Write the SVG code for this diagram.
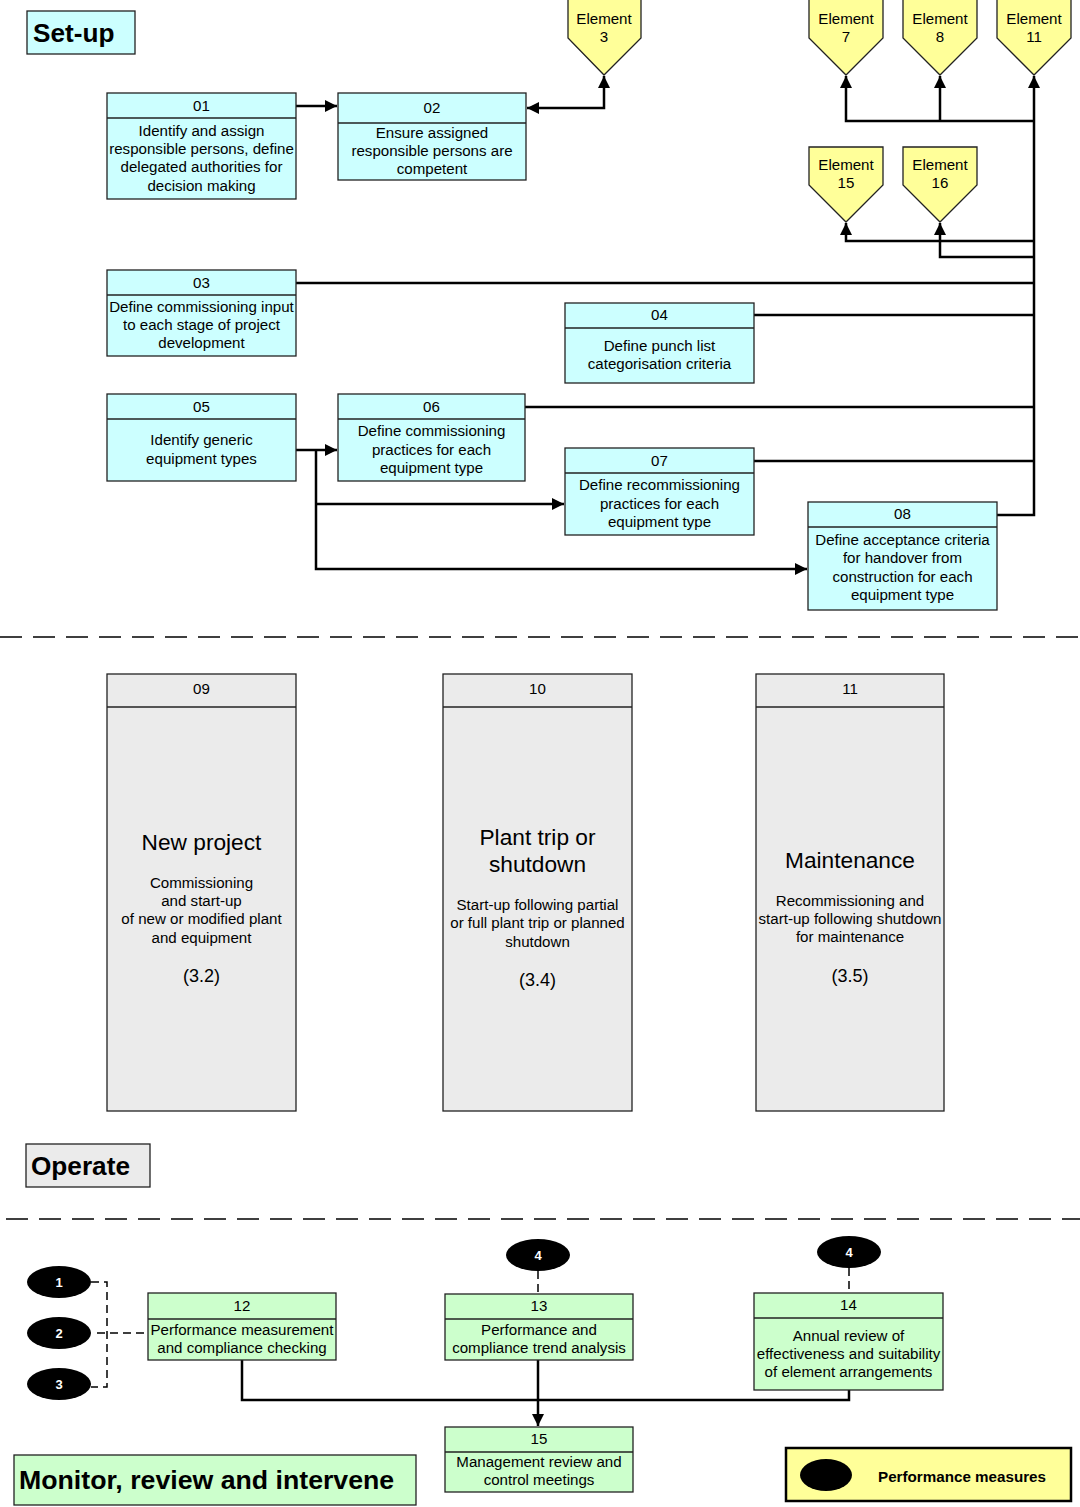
<svg xmlns="http://www.w3.org/2000/svg" width="1080" height="1507" viewBox="0 0 1080 1507">
<defs>
<style>
text{font-family:"Liberation Sans",Arial,sans-serif;fill:#000;text-anchor:middle}
.t{font-size:15.1px}
.big{font-size:22.7px}
.ref{font-size:18px}
.lbl{font-size:26.2px;font-weight:bold;text-anchor:start}
.num{font-size:13px;font-weight:bold;fill:#fff}
.box{stroke:#222;stroke-width:1.3}
.cy{fill:#CCFFFF}
.gr{fill:#EBEBEB}
.gn{fill:#CCFFCC}
.ye{fill:#FFFF99}
.ln{fill:none;stroke:#000;stroke-width:2.5}
.dash{fill:none;stroke:#000;stroke-width:1.5;stroke-dasharray:8 5}
.sep{fill:none;stroke:#000;stroke-width:1.5;stroke-dasharray:22 11}
</style>
<marker id="ah" viewBox="0 0 12 12" refX="12" refY="6" markerWidth="12" markerHeight="12" markerUnits="userSpaceOnUse" orient="auto-start-reverse">
<path d="M0,0 L12,6 L0,12 z" fill="#000"/>
</marker>
</defs>
<rect width="1080" height="1507" fill="#fff"/>

<g id="label-setup">
<rect x="27" y="11" width="108" height="43" class="box cy"/>
<text x="33" y="42" class="lbl">Set-up</text>
</g>

<g id="connectors">
<path d="M296,106 H337" class="ln" marker-end="url(#ah)"/>
<path d="M527,108 H604 V76" class="ln" marker-start="url(#ah)" marker-end="url(#ah)"/>
<path d="M296,283 H1034" class="ln"/>
<path d="M754,315 H1034" class="ln"/>
<path d="M525,407 H1034" class="ln"/>
<path d="M754,461 H1034" class="ln"/>
<path d="M997,515 H1034 V76" class="ln" marker-end="url(#ah)"/>
<path d="M1034,121 H846 V76" class="ln" marker-end="url(#ah)"/>
<path d="M940,121 V76" class="ln" marker-end="url(#ah)"/>
<path d="M1034,241 H846 V223" class="ln" marker-end="url(#ah)"/>
<path d="M1034,257 H940 V223" class="ln" marker-end="url(#ah)"/>
<path d="M296,450 H337" class="ln" marker-end="url(#ah)"/>
<path d="M316,450 V569 H807" class="ln" marker-end="url(#ah)"/>
<path d="M316,504 H564" class="ln" marker-end="url(#ah)"/>
<path d="M242,1360 V1400 H849 V1390" class="ln"/>
<path d="M538,1360 V1426" class="ln" marker-end="url(#ah)"/>
<path d="M91,1282 H107 V1387 H91" class="dash"/>
<path d="M97,1333 H148" class="dash"/>
<path d="M538,1271 V1294" class="dash"/>
<path d="M849,1268 V1293" class="dash"/>
</g>

<g id="separators">
<path d="M0,637 H1080" class="sep"/>
<path d="M6,1219 H1080" class="sep"/>
</g>

<g id="el3">
<polygon points="568,-1 641,-1 641,38 604,75 568,38" class="box ye"/>
<text x="604" y="24" class="t">Element</text><text x="604" y="42" class="t">3</text>
</g>
<g id="el7">
<polygon points="809,-1 883,-1 883,38 846,75 809,38" class="box ye"/>
<text x="846" y="24" class="t">Element</text><text x="846" y="42" class="t">7</text>
</g>
<g id="el8">
<polygon points="903,-1 977,-1 977,38 940,75 903,38" class="box ye"/>
<text x="940" y="24" class="t">Element</text><text x="940" y="42" class="t">8</text>
</g>
<g id="el11">
<polygon points="997,-1 1071,-1 1071,38 1034,75 997,38" class="box ye"/>
<text x="1034" y="24" class="t">Element</text><text x="1034" y="42" class="t">11</text>
</g>
<g id="el15">
<polygon points="809,147 883,147 883,185 846,222 809,185" class="box ye"/>
<text x="846" y="170" class="t">Element</text><text x="846" y="188" class="t">15</text>
</g>
<g id="el16">
<polygon points="903,147 977,147 977,185 940,222 903,185" class="box ye"/>
<text x="940" y="170" class="t">Element</text><text x="940" y="188" class="t">16</text>
</g>

<g id="n01">
<rect x="107" y="93" width="189" height="106" class="box cy"/>
<line x1="107" y1="118" x2="296" y2="118" class="box"/>
<text x="201.5" y="111" class="t">01</text>
<text x="201.5" y="136" class="t">Identify and assign</text>
<text x="201.5" y="154" class="t">responsible persons, define</text>
<text x="201.5" y="172" class="t">delegated authorities for</text>
<text x="201.5" y="191" class="t">decision making</text>
</g>
<g id="n02">
<rect x="338" y="93" width="188" height="87" class="box cy"/>
<line x1="338" y1="123" x2="526" y2="123" class="box"/>
<text x="432" y="113" class="t">02</text>
<text x="432" y="138" class="t">Ensure assigned</text>
<text x="432" y="156" class="t">responsible persons are</text>
<text x="432" y="174" class="t">competent</text>
</g>
<g id="n03">
<rect x="107" y="270" width="189" height="86" class="box cy"/>
<line x1="107" y1="295" x2="296" y2="295" class="box"/>
<text x="201.5" y="288" class="t">03</text>
<text x="201.5" y="312" class="t">Define commissioning input</text>
<text x="201.5" y="330" class="t">to each stage of project</text>
<text x="201.5" y="348" class="t">development</text>
</g>
<g id="n04">
<rect x="565" y="303" width="189" height="80" class="box cy"/>
<line x1="565" y1="328" x2="754" y2="328" class="box"/>
<text x="659.5" y="320" class="t">04</text>
<text x="659.5" y="351" class="t">Define punch list</text>
<text x="659.5" y="369" class="t">categorisation criteria</text>
</g>
<g id="n05">
<rect x="107" y="394" width="189" height="87" class="box cy"/>
<line x1="107" y1="419" x2="296" y2="419" class="box"/>
<text x="201.5" y="412" class="t">05</text>
<text x="201.5" y="445" class="t">Identify generic</text>
<text x="201.5" y="464" class="t">equipment types</text>
</g>
<g id="n06">
<rect x="338" y="394" width="187" height="87" class="box cy"/>
<line x1="338" y1="419" x2="525" y2="419" class="box"/>
<text x="431.5" y="412" class="t">06</text>
<text x="431.5" y="436" class="t">Define commissioning</text>
<text x="431.5" y="455" class="t">practices for each</text>
<text x="431.5" y="473" class="t">equipment type</text>
</g>
<g id="n07">
<rect x="565" y="448" width="189" height="87" class="box cy"/>
<line x1="565" y1="473" x2="754" y2="473" class="box"/>
<text x="659.5" y="466" class="t">07</text>
<text x="659.5" y="490" class="t">Define recommissioning</text>
<text x="659.5" y="509" class="t">practices for each</text>
<text x="659.5" y="527" class="t">equipment type</text>
</g>
<g id="n08">
<rect x="808" y="502" width="189" height="108" class="box cy"/>
<line x1="808" y1="527" x2="997" y2="527" class="box"/>
<text x="902.5" y="519" class="t">08</text>
<text x="902.5" y="545" class="t">Define acceptance criteria</text>
<text x="902.5" y="563" class="t">for handover from</text>
<text x="902.5" y="582" class="t">construction for each</text>
<text x="902.5" y="600" class="t">equipment type</text>
</g>

<g id="n09">
<rect x="107" y="674" width="189" height="437" class="box gr"/>
<line x1="107" y1="707" x2="296" y2="707" class="box"/>
<text x="201.5" y="694" class="t">09</text>
<text x="201.5" y="850" class="big">New project</text>
<text x="201.5" y="888" class="t">Commissioning</text>
<text x="201.5" y="906" class="t">and start-up</text>
<text x="201.5" y="924" class="t">of new or modified plant</text>
<text x="201.5" y="943" class="t">and equipment</text>
<text x="201.5" y="982" class="ref">(3.2)</text>
</g>
<g id="n10">
<rect x="443" y="674" width="189" height="437" class="box gr"/>
<line x1="443" y1="707" x2="632" y2="707" class="box"/>
<text x="537.5" y="694" class="t">10</text>
<text x="537.5" y="845" class="big">Plant trip or</text>
<text x="537.5" y="872" class="big">shutdown</text>
<text x="537.5" y="910" class="t">Start-up following partial</text>
<text x="537.5" y="928" class="t">or full plant trip or planned</text>
<text x="537.5" y="947" class="t">shutdown</text>
<text x="537.5" y="986" class="ref">(3.4)</text>
</g>
<g id="n11">
<rect x="756" y="674" width="188" height="437" class="box gr"/>
<line x1="756" y1="707" x2="944" y2="707" class="box"/>
<text x="850" y="694" class="t">11</text>
<text x="850" y="868" class="big">Maintenance</text>
<text x="850" y="906" class="t">Recommissioning and</text>
<text x="850" y="924" class="t">start-up following shutdown</text>
<text x="850" y="942" class="t">for maintenance</text>
<text x="850" y="982" class="ref">(3.5)</text>
</g>

<g id="label-operate">
<rect x="26" y="1144" width="124" height="43" class="box gr"/>
<text x="31" y="1175" class="lbl">Operate</text>
</g>

<g id="pm1"><ellipse cx="59" cy="1282" rx="32" ry="16" fill="#000"/><text x="59" y="1287" class="num">1</text></g>
<g id="pm2"><ellipse cx="59" cy="1333" rx="32" ry="16" fill="#000"/><text x="59" y="1338" class="num">2</text></g>
<g id="pm3"><ellipse cx="59" cy="1384" rx="32" ry="16" fill="#000"/><text x="59" y="1389" class="num">3</text></g>
<g id="pm4a"><ellipse cx="538" cy="1255" rx="32" ry="16" fill="#000"/><text x="538" y="1260" class="num">4</text></g>
<g id="pm4b"><ellipse cx="849" cy="1252" rx="32" ry="16" fill="#000"/><text x="849" y="1257" class="num">4</text></g>

<g id="n12">
<rect x="148" y="1293" width="188" height="67" class="box gn"/>
<line x1="148" y1="1319" x2="336" y2="1319" class="box"/>
<text x="242" y="1311" class="t">12</text>
<text x="242" y="1335" class="t">Performance measurement</text>
<text x="242" y="1353" class="t">and compliance checking</text>
</g>
<g id="n13">
<rect x="445" y="1294" width="188" height="66" class="box gn"/>
<line x1="445" y1="1319" x2="633" y2="1319" class="box"/>
<text x="539" y="1311" class="t">13</text>
<text x="539" y="1335" class="t">Performance and</text>
<text x="539" y="1353" class="t">compliance trend analysis</text>
</g>
<g id="n14">
<rect x="754" y="1293" width="189" height="97" class="box gn"/>
<line x1="754" y1="1318" x2="943" y2="1318" class="box"/>
<text x="848.5" y="1310" class="t">14</text>
<text x="848.5" y="1341" class="t">Annual review of</text>
<text x="848.5" y="1359" class="t">effectiveness and suitability</text>
<text x="848.5" y="1377" class="t">of element arrangements</text>
</g>
<g id="n15">
<rect x="445" y="1427" width="188" height="65" class="box gn"/>
<line x1="445" y1="1452" x2="633" y2="1452" class="box"/>
<text x="539" y="1444" class="t">15</text>
<text x="539" y="1467" class="t">Management review and</text>
<text x="539" y="1485" class="t">control meetings</text>
</g>

<g id="label-monitor">
<rect x="14" y="1455" width="402" height="50" class="box gn"/>
<text x="19" y="1489" class="lbl" style="font-size:26.7px">Monitor, review and intervene</text>
</g>

<g id="legend">
<rect x="786" y="1448" width="285" height="53" class="ye" stroke="#000" stroke-width="2.5"/>
<ellipse cx="826" cy="1475" rx="26" ry="16" fill="#000"/>
<text x="878" y="1482" style="font-size:15.2px;font-weight:bold;text-anchor:start">Performance measures</text>
</g>
</svg>
